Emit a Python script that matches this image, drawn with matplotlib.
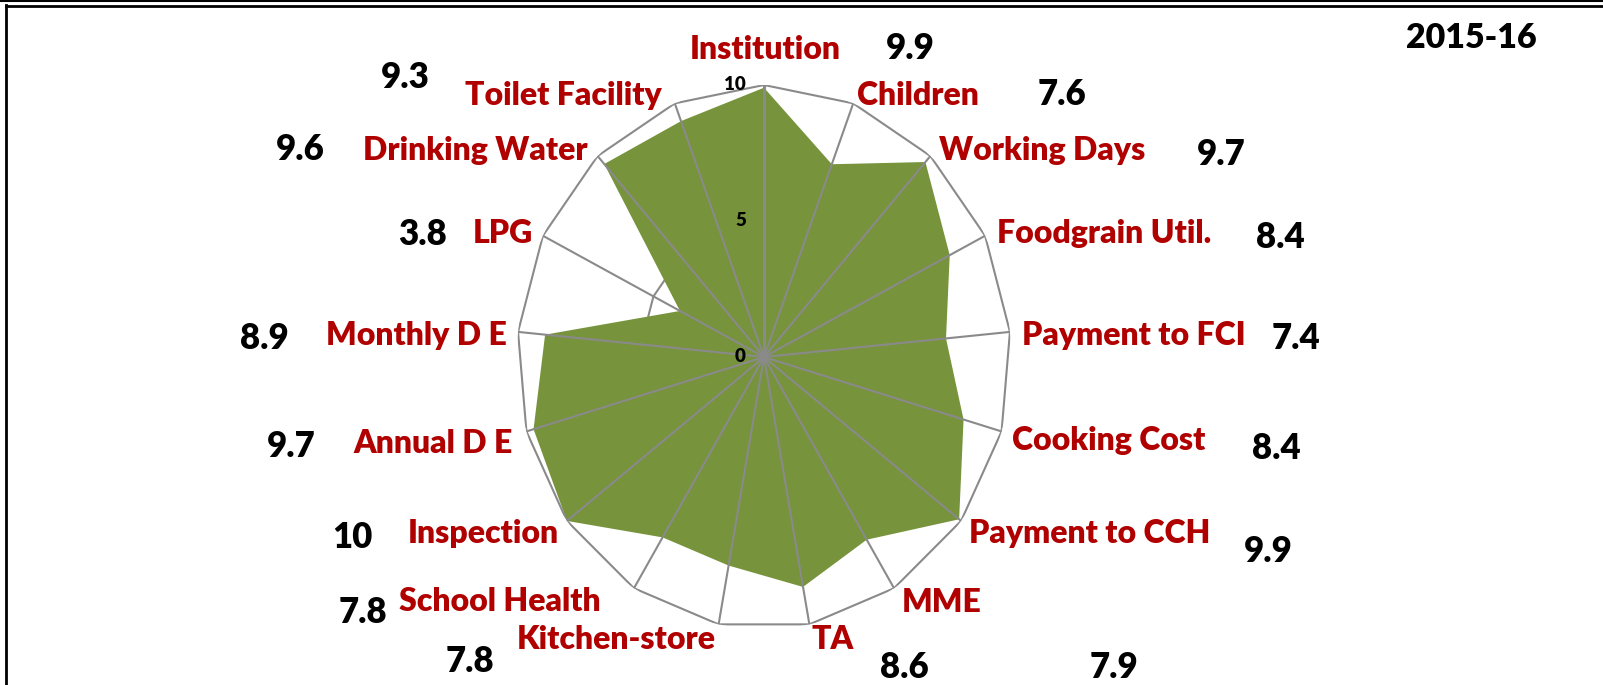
import numpy as np
import matplotlib.pyplot as plt
from matplotlib.lines import Line2D

# data
categories = ['Institution', 'Children', 'Working Days', 'Foodgrain Util.',
              'Payment to FCI', 'Cooking Cost', 'Payment to CCH', 'MME', 'TA',
              'Kitchen-store', 'School Health', 'Inspection', 'Annual D E',
              'Monthly D E', 'LPG', 'Drinking Water', 'Toilet Facility']
scores = [9.9, 7.6, 9.7, 8.4, 7.4, 8.4, 9.9, 7.9, 8.6,
          7.8, 7.8, 10, 9.7, 8.9, 3.8, 9.6, 9.3]
r_ticks = [0, 5, 10]
year = '2015-16'

# label layout, pixels from top-left of the figure
cat_pos = [(765, 59, 'center'), (857, 105, 'left'), (939, 160, 'left'),
           (997, 243, 'left'), (1022, 345, 'left'), (1012, 450, 'left'),
           (969, 543, 'left'), (902, 612, 'left'), (812, 649, 'left'),
           (716, 649, 'right'), (601, 611, 'right'), (559, 543, 'right'),
           (513, 453, 'right'), (507, 345, 'right'), (533, 243, 'right'),
           (588, 160, 'right'), (662, 105, 'right')]
val_pos = [(910, 59), (1062, 105), (1221, 165), (1280, 248), (1296, 349),
           (1276, 459), (1268, 562), (1114, 678), (904, 678), (470, 672),
           (363, 623), (352, 548), (291, 457), (264, 349), (423, 245),
           (300, 160), (405, 88)]

W, H = 1603, 685
FONT = ['Lato', 'DejaVu Sans']
green = '#77933C'
grey = '#8A8A8A'
red = '#B00000'

fig = plt.figure(figsize=(W / 100, H / 100), dpi=100)
ax = fig.add_axes([517 / W, 56 / H, 494 / W, 544 / H], projection='polar')
ax.set_aspect('auto')
ax.set_theta_zero_location('N')
ax.set_theta_direction(-1)

n = len(categories)
theta = np.linspace(0, 2 * np.pi, n, endpoint=False)
closed = np.append(theta, theta[0])

ax.plot(closed, [5] * (n + 1), color=grey, lw=1.5, zorder=1)
ax.fill(closed, scores + scores[:1], color=green, lw=0, zorder=2)
for i, t in enumerate(theta):
    ax.plot([t, t], [0, 10], color=grey, lw=2.2 if i == 0 else 1.5, zorder=3)
ax.plot(closed, [10] * (n + 1), color=grey, lw=1.5, zorder=3)

for r in r_ticks:
    ax.annotate(str(r), xy=(0, r), xytext=(-13, 0), textcoords='offset points',
                ha='right', va='center', fontsize=13.5, family=FONT,
                fontweight='heavy', zorder=4)

ax.set_ylim(0, 10)
ax.set_xticks([])
ax.set_yticks([])
ax.grid(False)
ax.spines['polar'].set_visible(False)
ax.patch.set_alpha(0)

for name, (x, y, ha) in zip(categories, cat_pos):
    fig.text(x / W, 1 - y / H, name, ha=ha, va='baseline', fontsize=23,
             fontweight='heavy', color=red, family=FONT)
for v, (x, y) in zip(scores, val_pos):
    fig.text(x / W, 1 - y / H, f'{v:g}', ha='center', va='baseline',
             fontsize=25, fontweight='heavy', color='black', family=FONT)

fig.text(1471 / W, 1 - 48 / H, year, ha='center', va='baseline', fontsize=24.5,
         fontweight='heavy', color='black', family=FONT)

# frame
fig.add_artist(Line2D([0, 1], [1 - 0.7 / H] * 2, color='black', lw=1.5))
fig.add_artist(Line2D([5.5 / W, 1], [1 - 6 / H] * 2, color='black', lw=2))
fig.add_artist(Line2D([6 / W] * 2, [0, 1 - 5 / H], color='black', lw=2))

fig.savefig('out.png', dpi=100, facecolor='white')
